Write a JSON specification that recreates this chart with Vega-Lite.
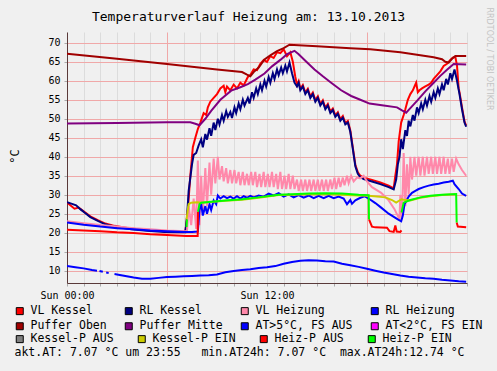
{
"$schema": "https://vega.github.io/schema/vega-lite/v6.json",
"width": 400,
"height": 251,
"autosize": {"type": "none"},
"padding": {"left": 67, "top": 32, "right": 30, "bottom": 88},
"background": "#f0f0f0",
"config": {"view": {"fill": "#ffffff", "stroke": null}, "font": "DejaVu Sans Mono", "legend": {"padding": 0}},
"title": {"text": "Temperaturverlauf Heizung am: 13.10.2013", "font": "DejaVu Sans Mono", "fontSize": 13, "fontWeight": "normal", "color": "#000000", "anchor": "middle", "frame": "group", "baseline": "middle", "offset": -9, "dx": -18.5, "dy": 14},
"datasets": {
"lines": [
{"series":"VL Kessel","seg":1,"h":0,"t":28.0},{"series":"VL Kessel","seg":1,"h":0.2,"t":27.2},{"series":"VL Kessel","seg":1,"h":0.45,"t":26.3},{"series":"VL Kessel","seg":1,"h":0.7,"t":26.6},{"series":"VL Kessel","seg":1,"h":1.0,"t":25.6},{"series":"VL Kessel","seg":1,"h":1.4,"t":24.3},{"series":"VL Kessel","seg":1,"h":1.85,"t":23.3},{"series":"VL Kessel","seg":1,"h":2.3,"t":22.4},{"series":"VL Kessel","seg":1,"h":2.85,"t":21.8},{"series":"VL Kessel","seg":1,"h":3.4,"t":21.4},{"series":"VL Kessel","seg":1,"h":3.85,"t":21.1},{"series":"VL Kessel","seg":1,"h":4.8,"t":20.7},{"series":"VL Kessel","seg":1,"h":5.85,"t":20.4},{"series":"VL Kessel","seg":1,"h":7.1,"t":20.2},
{"series":"VL Kessel","seg":1,"h":7.25,"t":26},{"series":"VL Kessel","seg":1,"h":7.4,"t":35},{"series":"VL Kessel","seg":1,"h":7.55,"t":42.5},{"series":"VL Kessel","seg":1,"h":7.7,"t":45},{"series":"VL Kessel","seg":1,"h":7.85,"t":47.3},{"series":"VL Kessel","seg":1,"h":8.0,"t":49},{"series":"VL Kessel","seg":1,"h":8.2,"t":51.5},{"series":"VL Kessel","seg":1,"h":8.35,"t":51},{"series":"VL Kessel","seg":1,"h":8.45,"t":53},{"series":"VL Kessel","seg":1,"h":8.6,"t":54.5},{"series":"VL Kessel","seg":1,"h":8.8,"t":55.5},{"series":"VL Kessel","seg":1,"h":9.0,"t":56.5},{"series":"VL Kessel","seg":1,"h":9.2,"t":58},{"series":"VL Kessel","seg":1,"h":9.4,"t":58.7},{"series":"VL Kessel","seg":1,"h":9.5,"t":57},{"series":"VL Kessel","seg":1,"h":9.6,"t":58.5},{"series":"VL Kessel","seg":1,"h":9.8,"t":57.5},{"series":"VL Kessel","seg":1,"h":10.0,"t":59},{"series":"VL Kessel","seg":1,"h":10.2,"t":58},{"series":"VL Kessel","seg":1,"h":10.4,"t":59.5},{"series":"VL Kessel","seg":1,"h":10.6,"t":58.8},{"series":"VL Kessel","seg":1,"h":10.85,"t":61},{"series":"VL Kessel","seg":1,"h":11.0,"t":61.5},{"series":"VL Kessel","seg":1,"h":11.2,"t":63},{"series":"VL Kessel","seg":1,"h":11.4,"t":62.8},{"series":"VL Kessel","seg":1,"h":11.6,"t":64.5},{"series":"VL Kessel","seg":1,"h":11.8,"t":65.5},{"series":"VL Kessel","seg":1,"h":12.0,"t":65},{"series":"VL Kessel","seg":1,"h":12.2,"t":66.5},{"series":"VL Kessel","seg":1,"h":12.4,"t":66},{"series":"VL Kessel","seg":1,"h":12.6,"t":67.5},{"series":"VL Kessel","seg":1,"h":12.8,"t":67.3},{"series":"VL Kessel","seg":1,"h":13.0,"t":68.3},{"series":"VL Kessel","seg":1,"h":13.2,"t":66.5},{"series":"VL Kessel","seg":1,"h":13.4,"t":67.5},{"series":"VL Kessel","seg":1,"h":13.55,"t":65},{"series":"VL Kessel","seg":1,"h":13.7,"t":61},
{"series":"VL Kessel","seg":1,"h":13.8,"t":58.9},{"series":"VL Kessel","seg":1,"h":13.9,"t":59.9},{"series":"VL Kessel","seg":1,"h":14.0,"t":57.9},{"series":"VL Kessel","seg":1,"h":14.15,"t":58.9},{"series":"VL Kessel","seg":1,"h":14.3,"t":56.9},{"series":"VL Kessel","seg":1,"h":14.45,"t":57.9},{"series":"VL Kessel","seg":1,"h":14.6,"t":55.9},{"series":"VL Kessel","seg":1,"h":14.75,"t":56.9},{"series":"VL Kessel","seg":1,"h":14.9,"t":54.9},{"series":"VL Kessel","seg":1,"h":15.05,"t":55.9},{"series":"VL Kessel","seg":1,"h":15.2,"t":53.9},{"series":"VL Kessel","seg":1,"h":15.35,"t":54.9},{"series":"VL Kessel","seg":1,"h":15.5,"t":52.9},{"series":"VL Kessel","seg":1,"h":15.65,"t":53.9},{"series":"VL Kessel","seg":1,"h":15.8,"t":51.9},{"series":"VL Kessel","seg":1,"h":15.95,"t":52.7},{"series":"VL Kessel","seg":1,"h":16.1,"t":50.9},{"series":"VL Kessel","seg":1,"h":16.25,"t":51.7},{"series":"VL Kessel","seg":1,"h":16.4,"t":49.9},{"series":"VL Kessel","seg":1,"h":16.55,"t":50.7},{"series":"VL Kessel","seg":1,"h":16.7,"t":48.9},{"series":"VL Kessel","seg":1,"h":16.85,"t":49.4},{"series":"VL Kessel","seg":1,"h":17.0,"t":46.9},{"series":"VL Kessel","seg":1,"h":17.15,"t":42.4},{"series":"VL Kessel","seg":1,"h":17.3,"t":37.9},{"series":"VL Kessel","seg":1,"h":17.45,"t":35.9},{"series":"VL Kessel","seg":1,"h":17.6,"t":35.0},{"series":"VL Kessel","seg":1,"h":17.8,"t":34.5},{"series":"VL Kessel","seg":1,"h":18.3,"t":33.9},{"series":"VL Kessel","seg":1,"h":18.8,"t":33.2},{"series":"VL Kessel","seg":1,"h":19.3,"t":32.4},{"series":"VL Kessel","seg":1,"h":19.6,"t":31.7},
{"series":"VL Kessel","seg":1,"h":19.7,"t":35},{"series":"VL Kessel","seg":1,"h":19.8,"t":38},{"series":"VL Kessel","seg":1,"h":19.9,"t":44},{"series":"VL Kessel","seg":1,"h":20.05,"t":49},{"series":"VL Kessel","seg":1,"h":20.2,"t":51},{"series":"VL Kessel","seg":1,"h":20.3,"t":52.5},{"series":"VL Kessel","seg":1,"h":20.45,"t":55},{"series":"VL Kessel","seg":1,"h":20.6,"t":56.5},{"series":"VL Kessel","seg":1,"h":20.75,"t":57.5},{"series":"VL Kessel","seg":1,"h":20.87,"t":58.7},{"series":"VL Kessel","seg":1,"h":20.95,"t":59.5},{"series":"VL Kessel","seg":1,"h":21.05,"t":57},{"series":"VL Kessel","seg":1,"h":21.15,"t":57.5},{"series":"VL Kessel","seg":1,"h":21.3,"t":58},{"series":"VL Kessel","seg":1,"h":21.5,"t":58.5},{"series":"VL Kessel","seg":1,"h":21.7,"t":59},{"series":"VL Kessel","seg":1,"h":21.85,"t":59.5},{"series":"VL Kessel","seg":1,"h":22.0,"t":60.5},{"series":"VL Kessel","seg":1,"h":22.2,"t":61.5},{"series":"VL Kessel","seg":1,"h":22.4,"t":62.5},{"series":"VL Kessel","seg":1,"h":22.6,"t":63.9},{"series":"VL Kessel","seg":1,"h":22.8,"t":64.5},{"series":"VL Kessel","seg":1,"h":23.0,"t":65.5},{"series":"VL Kessel","seg":1,"h":23.15,"t":66.1},{"series":"VL Kessel","seg":1,"h":23.3,"t":66.3},{"series":"VL Kessel","seg":1,"h":23.4,"t":64},{"series":"VL Kessel","seg":1,"h":23.5,"t":58},{"series":"VL Kessel","seg":1,"h":23.55,"t":57},{"series":"VL Kessel","seg":1,"h":23.7,"t":53},{"series":"VL Kessel","seg":1,"h":23.85,"t":49.3},{"series":"VL Kessel","seg":1,"h":23.95,"t":48.2},
{"series":"RL Kessel","seg":1,"h":0,"t":28.0},{"series":"RL Kessel","seg":1,"h":0.3,"t":27.6},{"series":"RL Kessel","seg":1,"h":0.55,"t":27.2},{"series":"RL Kessel","seg":1,"h":0.8,"t":26.2},{"series":"RL Kessel","seg":1,"h":1.05,"t":25.3},{"series":"RL Kessel","seg":1,"h":1.4,"t":24.1},{"series":"RL Kessel","seg":1,"h":1.85,"t":23.1},{"series":"RL Kessel","seg":1,"h":2.3,"t":22.2},{"series":"RL Kessel","seg":1,"h":2.85,"t":21.6},{"series":"RL Kessel","seg":1,"h":3.4,"t":21.2},{"series":"RL Kessel","seg":1,"h":3.85,"t":20.9},{"series":"RL Kessel","seg":1,"h":4.8,"t":20.5},{"series":"RL Kessel","seg":1,"h":5.85,"t":20.2},{"series":"RL Kessel","seg":1,"h":7.1,"t":20.1},
{"series":"RL Kessel","seg":1,"h":7.2,"t":24},{"series":"RL Kessel","seg":1,"h":7.3,"t":31},{"series":"RL Kessel","seg":1,"h":7.4,"t":34.5},{"series":"RL Kessel","seg":1,"h":7.5,"t":38},{"series":"RL Kessel","seg":1,"h":7.6,"t":40.5},{"series":"RL Kessel","seg":1,"h":7.75,"t":41},{"series":"RL Kessel","seg":1,"h":7.9,"t":43},{"series":"RL Kessel","seg":1,"h":8.05,"t":44.6},{"series":"RL Kessel","seg":1,"h":8.15,"t":42.5},{"series":"RL Kessel","seg":1,"h":8.3,"t":46},{"series":"RL Kessel","seg":1,"h":8.4,"t":44.5},{"series":"RL Kessel","seg":1,"h":8.55,"t":47.5},{"series":"RL Kessel","seg":1,"h":8.65,"t":45.5},{"series":"RL Kessel","seg":1,"h":8.8,"t":49},{"series":"RL Kessel","seg":1,"h":8.9,"t":47},{"series":"RL Kessel","seg":1,"h":9.05,"t":50},{"series":"RL Kessel","seg":1,"h":9.15,"t":48.5},{"series":"RL Kessel","seg":1,"h":9.3,"t":51},{"series":"RL Kessel","seg":1,"h":9.4,"t":49.5},{"series":"RL Kessel","seg":1,"h":9.55,"t":52},{"series":"RL Kessel","seg":1,"h":9.65,"t":50.5},{"series":"RL Kessel","seg":1,"h":9.8,"t":51.8},{"series":"RL Kessel","seg":1,"h":9.9,"t":50.2},{"series":"RL Kessel","seg":1,"h":10.05,"t":53},{"series":"RL Kessel","seg":1,"h":10.15,"t":51.5},{"series":"RL Kessel","seg":1,"h":10.3,"t":54},{"series":"RL Kessel","seg":1,"h":10.4,"t":52.5},{"series":"RL Kessel","seg":1,"h":10.55,"t":55},{"series":"RL Kessel","seg":1,"h":10.65,"t":53.5},{"series":"RL Kessel","seg":1,"h":10.85,"t":55.5},{"series":"RL Kessel","seg":1,"h":10.95,"t":54},{"series":"RL Kessel","seg":1,"h":11.1,"t":57},{"series":"RL Kessel","seg":1,"h":11.2,"t":55.5},{"series":"RL Kessel","seg":1,"h":11.35,"t":58},{"series":"RL Kessel","seg":1,"h":11.45,"t":56.5},{"series":"RL Kessel","seg":1,"h":11.6,"t":59},{"series":"RL Kessel","seg":1,"h":11.7,"t":57.5},{"series":"RL Kessel","seg":1,"h":11.85,"t":60},{"series":"RL Kessel","seg":1,"h":11.95,"t":58.5},{"series":"RL Kessel","seg":1,"h":12.1,"t":61},{"series":"RL Kessel","seg":1,"h":12.2,"t":59.5},{"series":"RL Kessel","seg":1,"h":12.35,"t":62},{"series":"RL Kessel","seg":1,"h":12.45,"t":60.5},{"series":"RL Kessel","seg":1,"h":12.6,"t":63},{"series":"RL Kessel","seg":1,"h":12.7,"t":61.5},{"series":"RL Kessel","seg":1,"h":12.85,"t":63.5},{"series":"RL Kessel","seg":1,"h":12.95,"t":62},{"series":"RL Kessel","seg":1,"h":13.1,"t":64},{"series":"RL Kessel","seg":1,"h":13.2,"t":62.5},{"series":"RL Kessel","seg":1,"h":13.35,"t":64.8},{"series":"RL Kessel","seg":1,"h":13.5,"t":62},{"series":"RL Kessel","seg":1,"h":13.65,"t":59.5},
{"series":"RL Kessel","seg":1,"h":13.8,"t":58.5},{"series":"RL Kessel","seg":1,"h":13.9,"t":59.5},{"series":"RL Kessel","seg":1,"h":14.0,"t":57.5},{"series":"RL Kessel","seg":1,"h":14.15,"t":58.5},{"series":"RL Kessel","seg":1,"h":14.3,"t":56.5},{"series":"RL Kessel","seg":1,"h":14.45,"t":57.5},{"series":"RL Kessel","seg":1,"h":14.6,"t":55.5},{"series":"RL Kessel","seg":1,"h":14.75,"t":56.5},{"series":"RL Kessel","seg":1,"h":14.9,"t":54.5},{"series":"RL Kessel","seg":1,"h":15.05,"t":55.5},{"series":"RL Kessel","seg":1,"h":15.2,"t":53.5},{"series":"RL Kessel","seg":1,"h":15.35,"t":54.5},{"series":"RL Kessel","seg":1,"h":15.5,"t":52.5},{"series":"RL Kessel","seg":1,"h":15.65,"t":53.5},{"series":"RL Kessel","seg":1,"h":15.8,"t":51.5},{"series":"RL Kessel","seg":1,"h":15.95,"t":52.3},{"series":"RL Kessel","seg":1,"h":16.1,"t":50.5},{"series":"RL Kessel","seg":1,"h":16.25,"t":51.3},{"series":"RL Kessel","seg":1,"h":16.4,"t":49.5},{"series":"RL Kessel","seg":1,"h":16.55,"t":50.3},{"series":"RL Kessel","seg":1,"h":16.7,"t":48.5},{"series":"RL Kessel","seg":1,"h":16.85,"t":49},{"series":"RL Kessel","seg":1,"h":17.0,"t":46.5},{"series":"RL Kessel","seg":1,"h":17.15,"t":42},{"series":"RL Kessel","seg":1,"h":17.3,"t":37.5},{"series":"RL Kessel","seg":1,"h":17.45,"t":35.5},{"series":"RL Kessel","seg":1,"h":17.6,"t":34.6},{"series":"RL Kessel","seg":1,"h":17.8,"t":34.1},{"series":"RL Kessel","seg":1,"h":18.3,"t":33.5},{"series":"RL Kessel","seg":1,"h":18.8,"t":32.8},{"series":"RL Kessel","seg":1,"h":19.3,"t":32.0},{"series":"RL Kessel","seg":1,"h":19.6,"t":31.4},
{"series":"RL Kessel","seg":1,"h":19.75,"t":34},{"series":"RL Kessel","seg":1,"h":19.85,"t":38},{"series":"RL Kessel","seg":1,"h":19.95,"t":40},{"series":"RL Kessel","seg":1,"h":20.05,"t":44.6},{"series":"RL Kessel","seg":1,"h":20.15,"t":42},{"series":"RL Kessel","seg":1,"h":20.3,"t":47},{"series":"RL Kessel","seg":1,"h":20.4,"t":45.5},{"series":"RL Kessel","seg":1,"h":20.5,"t":49.5},{"series":"RL Kessel","seg":1,"h":20.6,"t":48},{"series":"RL Kessel","seg":1,"h":20.75,"t":51},{"series":"RL Kessel","seg":1,"h":20.85,"t":49.5},{"series":"RL Kessel","seg":1,"h":21.0,"t":53},{"series":"RL Kessel","seg":1,"h":21.1,"t":51.5},{"series":"RL Kessel","seg":1,"h":21.25,"t":54},{"series":"RL Kessel","seg":1,"h":21.35,"t":52.5},{"series":"RL Kessel","seg":1,"h":21.5,"t":55},{"series":"RL Kessel","seg":1,"h":21.6,"t":53.5},{"series":"RL Kessel","seg":1,"h":21.75,"t":56},{"series":"RL Kessel","seg":1,"h":21.85,"t":54.5},{"series":"RL Kessel","seg":1,"h":22.0,"t":57},{"series":"RL Kessel","seg":1,"h":22.1,"t":55.5},{"series":"RL Kessel","seg":1,"h":22.25,"t":58},{"series":"RL Kessel","seg":1,"h":22.35,"t":56.5},{"series":"RL Kessel","seg":1,"h":22.5,"t":59},{"series":"RL Kessel","seg":1,"h":22.6,"t":57.5},{"series":"RL Kessel","seg":1,"h":22.75,"t":60.5},{"series":"RL Kessel","seg":1,"h":22.85,"t":59},{"series":"RL Kessel","seg":1,"h":23.0,"t":62},{"series":"RL Kessel","seg":1,"h":23.1,"t":60.5},{"series":"RL Kessel","seg":1,"h":23.25,"t":63},{"series":"RL Kessel","seg":1,"h":23.4,"t":60},{"series":"RL Kessel","seg":1,"h":23.55,"t":56.5},{"series":"RL Kessel","seg":1,"h":23.7,"t":52.5},{"series":"RL Kessel","seg":1,"h":23.85,"t":49},{"series":"RL Kessel","seg":1,"h":23.95,"t":47.9},
{"series":"VL Heizung","seg":1,"h":0,"t":23.0},{"series":"VL Heizung","seg":1,"h":1,"t":22.5},{"series":"VL Heizung","seg":1,"h":2,"t":22.0},{"series":"VL Heizung","seg":1,"h":3,"t":21.6},{"series":"VL Heizung","seg":1,"h":4,"t":21.2},{"series":"VL Heizung","seg":1,"h":5,"t":20.9},{"series":"VL Heizung","seg":1,"h":6,"t":20.6},{"series":"VL Heizung","seg":1,"h":7.1,"t":20.4},{"series":"VL Heizung","seg":1,"h":7.2,"t":20.5},{"series":"VL Heizung","seg":1,"h":7.3,"t":27},{"series":"VL Heizung","seg":1,"h":7.45,"t":22},{"series":"VL Heizung","seg":1,"h":7.6,"t":29},{"series":"VL Heizung","seg":1,"h":7.75,"t":21},{"series":"VL Heizung","seg":1,"h":7.85,"t":39},{"series":"VL Heizung","seg":1,"h":7.95,"t":22},{"series":"VL Heizung","seg":1,"h":8.05,"t":35},{"series":"VL Heizung","seg":1,"h":8.15,"t":25},{"series":"VL Heizung","seg":1,"h":8.3,"t":37},{"series":"VL Heizung","seg":1,"h":8.4,"t":27},{"series":"VL Heizung","seg":1,"h":8.55,"t":38.5},{"series":"VL Heizung","seg":1,"h":8.65,"t":30},{"series":"VL Heizung","seg":1,"h":8.8,"t":39.5},{"series":"VL Heizung","seg":1,"h":8.9,"t":33},{"series":"VL Heizung","seg":1,"h":9.05,"t":40},{"series":"VL Heizung","seg":1,"h":9.15,"t":34},{"series":"VL Heizung","seg":1,"h":9.3,"t":37.5},{"series":"VL Heizung","seg":1,"h":9.4,"t":33.5},{"series":"VL Heizung","seg":1,"h":9.55,"t":37},{"series":"VL Heizung","seg":1,"h":9.65,"t":33},{"series":"VL Heizung","seg":1,"h":9.8,"t":36.5},{"series":"VL Heizung","seg":1,"h":9.9,"t":33},{"series":"VL Heizung","seg":1,"h":10.05,"t":36.5},{"series":"VL Heizung","seg":1,"h":10.15,"t":33},{"series":"VL Heizung","seg":1,"h":10.3,"t":36},{"series":"VL Heizung","seg":1,"h":10.4,"t":32.5},{"series":"VL Heizung","seg":1,"h":10.55,"t":36},{"series":"VL Heizung","seg":1,"h":10.65,"t":32.5},{"series":"VL Heizung","seg":1,"h":10.8,"t":35.5},{"series":"VL Heizung","seg":1,"h":10.9,"t":32.5},{"series":"VL Heizung","seg":1,"h":11.05,"t":36},{"series":"VL Heizung","seg":1,"h":11.15,"t":32.5},{"series":"VL Heizung","seg":1,"h":11.3,"t":36},{"series":"VL Heizung","seg":1,"h":11.4,"t":32},{"series":"VL Heizung","seg":1,"h":11.55,"t":35.5},{"series":"VL Heizung","seg":1,"h":11.65,"t":32},{"series":"VL Heizung","seg":1,"h":11.8,"t":36},{"series":"VL Heizung","seg":1,"h":11.9,"t":32},{"series":"VL Heizung","seg":1,"h":12.05,"t":35.5},{"series":"VL Heizung","seg":1,"h":12.15,"t":32},{"series":"VL Heizung","seg":1,"h":12.3,"t":36},{"series":"VL Heizung","seg":1,"h":12.4,"t":32},{"series":"VL Heizung","seg":1,"h":12.55,"t":35.5},{"series":"VL Heizung","seg":1,"h":12.65,"t":31.5},{"series":"VL Heizung","seg":1,"h":12.8,"t":36},{"series":"VL Heizung","seg":1,"h":12.9,"t":31.5},{"series":"VL Heizung","seg":1,"h":13.05,"t":35},{"series":"VL Heizung","seg":1,"h":13.15,"t":31.5},{"series":"VL Heizung","seg":1,"h":13.3,"t":35.5},{"series":"VL Heizung","seg":1,"h":13.4,"t":31.5},{"series":"VL Heizung","seg":1,"h":13.55,"t":35},{"series":"VL Heizung","seg":1,"h":13.65,"t":31.5},{"series":"VL Heizung","seg":1,"h":13.8,"t":34},{"series":"VL Heizung","seg":1,"h":13.9,"t":31},{"series":"VL Heizung","seg":1,"h":14.05,"t":34},{"series":"VL Heizung","seg":1,"h":14.15,"t":31},{"series":"VL Heizung","seg":1,"h":14.3,"t":34},{"series":"VL Heizung","seg":1,"h":14.4,"t":31},{"series":"VL Heizung","seg":1,"h":14.55,"t":34},{"series":"VL Heizung","seg":1,"h":14.65,"t":31},{"series":"VL Heizung","seg":1,"h":14.8,"t":34},{"series":"VL Heizung","seg":1,"h":14.9,"t":31},{"series":"VL Heizung","seg":1,"h":15.05,"t":34},{"series":"VL Heizung","seg":1,"h":15.15,"t":31},{"series":"VL Heizung","seg":1,"h":15.3,"t":34},{"series":"VL Heizung","seg":1,"h":15.4,"t":31},{"series":"VL Heizung","seg":1,"h":15.55,"t":34},{"series":"VL Heizung","seg":1,"h":15.65,"t":31},{"series":"VL Heizung","seg":1,"h":15.8,"t":34},{"series":"VL Heizung","seg":1,"h":15.9,"t":31.5},{"series":"VL Heizung","seg":1,"h":16.05,"t":34.5},{"series":"VL Heizung","seg":1,"h":16.15,"t":31.5},{"series":"VL Heizung","seg":1,"h":16.3,"t":34.5},{"series":"VL Heizung","seg":1,"h":16.4,"t":32},{"series":"VL Heizung","seg":1,"h":16.55,"t":34.5},{"series":"VL Heizung","seg":1,"h":16.65,"t":32.5},{"series":"VL Heizung","seg":1,"h":16.8,"t":35},{"series":"VL Heizung","seg":1,"h":16.9,"t":33},{"series":"VL Heizung","seg":1,"h":17.05,"t":35},{"series":"VL Heizung","seg":1,"h":17.2,"t":33.5},{"series":"VL Heizung","seg":1,"h":17.4,"t":34.5},{"series":"VL Heizung","seg":1,"h":17.6,"t":34.3},{"series":"VL Heizung","seg":1,"h":17.8,"t":35.0},{"series":"VL Heizung","seg":1,"h":18.0,"t":33.5},{"series":"VL Heizung","seg":1,"h":18.3,"t":32},{"series":"VL Heizung","seg":1,"h":18.85,"t":30.5},{"series":"VL Heizung","seg":1,"h":19.3,"t":28.5},{"series":"VL Heizung","seg":1,"h":19.65,"t":26.2},{"series":"VL Heizung","seg":1,"h":19.95,"t":23.5},{"series":"VL Heizung","seg":1,"h":20.0,"t":30},{"series":"VL Heizung","seg":1,"h":20.1,"t":24},{"series":"VL Heizung","seg":1,"h":20.2,"t":41},{"series":"VL Heizung","seg":1,"h":20.3,"t":27},{"series":"VL Heizung","seg":1,"h":20.4,"t":38},{"series":"VL Heizung","seg":1,"h":20.5,"t":30},{"series":"VL Heizung","seg":1,"h":20.6,"t":40},{"series":"VL Heizung","seg":1,"h":20.7,"t":34},{"series":"VL Heizung","seg":1,"h":20.85,"t":40},{"series":"VL Heizung","seg":1,"h":20.95,"t":35},{"series":"VL Heizung","seg":1,"h":21.1,"t":40},{"series":"VL Heizung","seg":1,"h":21.2,"t":35},{"series":"VL Heizung","seg":1,"h":21.35,"t":40},{"series":"VL Heizung","seg":1,"h":21.45,"t":35},{"series":"VL Heizung","seg":1,"h":21.6,"t":40},{"series":"VL Heizung","seg":1,"h":21.7,"t":35.5},{"series":"VL Heizung","seg":1,"h":21.85,"t":40},{"series":"VL Heizung","seg":1,"h":21.95,"t":35.5},{"series":"VL Heizung","seg":1,"h":22.1,"t":40},{"series":"VL Heizung","seg":1,"h":22.2,"t":35.5},{"series":"VL Heizung","seg":1,"h":22.35,"t":40},{"series":"VL Heizung","seg":1,"h":22.45,"t":35.5},{"series":"VL Heizung","seg":1,"h":22.6,"t":40},{"series":"VL Heizung","seg":1,"h":22.7,"t":35.5},{"series":"VL Heizung","seg":1,"h":22.85,"t":39.5},{"series":"VL Heizung","seg":1,"h":22.95,"t":35.5},{"series":"VL Heizung","seg":1,"h":23.1,"t":39.5},{"series":"VL Heizung","seg":1,"h":23.2,"t":36},{"series":"VL Heizung","seg":1,"h":23.35,"t":39.5},{"series":"VL Heizung","seg":1,"h":23.5,"t":38},{"series":"VL Heizung","seg":1,"h":23.7,"t":36.5},{"series":"VL Heizung","seg":1,"h":23.95,"t":35},
{"series":"RL Heizung","seg":1,"h":0,"t":22.7},{"series":"RL Heizung","seg":1,"h":1,"t":22.1},{"series":"RL Heizung","seg":1,"h":2,"t":21.6},{"series":"RL Heizung","seg":1,"h":3,"t":21.2},{"series":"RL Heizung","seg":1,"h":4,"t":20.9},{"series":"RL Heizung","seg":1,"h":5,"t":20.6},{"series":"RL Heizung","seg":1,"h":6,"t":20.4},{"series":"RL Heizung","seg":1,"h":7.1,"t":20.2},{"series":"RL Heizung","seg":1,"h":7.5,"t":20.2},{"series":"RL Heizung","seg":1,"h":7.85,"t":20.3},{"series":"RL Heizung","seg":1,"h":7.95,"t":26},{"series":"RL Heizung","seg":1,"h":8.05,"t":27.5},{"series":"RL Heizung","seg":1,"h":8.15,"t":24.5},{"series":"RL Heizung","seg":1,"h":8.3,"t":27},{"series":"RL Heizung","seg":1,"h":8.4,"t":25},{"series":"RL Heizung","seg":1,"h":8.55,"t":27.5},{"series":"RL Heizung","seg":1,"h":8.65,"t":26},{"series":"RL Heizung","seg":1,"h":8.8,"t":28.5},{"series":"RL Heizung","seg":1,"h":8.95,"t":27.5},{"series":"RL Heizung","seg":1,"h":9.05,"t":29.8},{"series":"RL Heizung","seg":1,"h":9.2,"t":29},{"series":"RL Heizung","seg":1,"h":9.4,"t":29.6},{"series":"RL Heizung","seg":1,"h":9.6,"t":29.1},{"series":"RL Heizung","seg":1,"h":9.8,"t":29.5},{"series":"RL Heizung","seg":1,"h":10.0,"t":29.0},{"series":"RL Heizung","seg":1,"h":10.2,"t":29.6},{"series":"RL Heizung","seg":1,"h":10.4,"t":29.0},{"series":"RL Heizung","seg":1,"h":10.6,"t":29.6},{"series":"RL Heizung","seg":1,"h":10.8,"t":29.2},{"series":"RL Heizung","seg":1,"h":11.0,"t":29.7},{"series":"RL Heizung","seg":1,"h":11.2,"t":29.3},{"series":"RL Heizung","seg":1,"h":11.5,"t":29.8},{"series":"RL Heizung","seg":1,"h":11.8,"t":29.5},{"series":"RL Heizung","seg":1,"h":12.1,"t":30.3},{"series":"RL Heizung","seg":1,"h":12.4,"t":29.8},{"series":"RL Heizung","seg":1,"h":12.7,"t":30.4},{"series":"RL Heizung","seg":1,"h":13.0,"t":29.5},{"series":"RL Heizung","seg":1,"h":13.3,"t":30.1},{"series":"RL Heizung","seg":1,"h":13.6,"t":29.3},{"series":"RL Heizung","seg":1,"h":13.9,"t":29.9},{"series":"RL Heizung","seg":1,"h":14.2,"t":29.2},{"series":"RL Heizung","seg":1,"h":14.5,"t":29.8},{"series":"RL Heizung","seg":1,"h":14.8,"t":29.1},{"series":"RL Heizung","seg":1,"h":15.1,"t":29.7},{"series":"RL Heizung","seg":1,"h":15.4,"t":29.1},{"series":"RL Heizung","seg":1,"h":15.7,"t":29.7},{"series":"RL Heizung","seg":1,"h":16.0,"t":29.1},{"series":"RL Heizung","seg":1,"h":16.3,"t":29.5},{"series":"RL Heizung","seg":1,"h":16.6,"t":29.0},{"series":"RL Heizung","seg":1,"h":16.8,"t":27.5},{"series":"RL Heizung","seg":1,"h":17.0,"t":28.6},{"series":"RL Heizung","seg":1,"h":17.1,"t":27.6},{"series":"RL Heizung","seg":1,"h":17.3,"t":28.5},{"series":"RL Heizung","seg":1,"h":17.6,"t":29.2},{"series":"RL Heizung","seg":1,"h":17.85,"t":29.6},{"series":"RL Heizung","seg":1,"h":18.1,"t":29.0},{"series":"RL Heizung","seg":1,"h":18.5,"t":27.8},{"series":"RL Heizung","seg":1,"h":18.85,"t":26.6},{"series":"RL Heizung","seg":1,"h":19.3,"t":25.0},{"series":"RL Heizung","seg":1,"h":19.85,"t":23.5},{"series":"RL Heizung","seg":1,"h":20.05,"t":23.0},{"series":"RL Heizung","seg":1,"h":20.15,"t":24.5},{"series":"RL Heizung","seg":1,"h":20.25,"t":27.5},{"series":"RL Heizung","seg":1,"h":20.5,"t":29.5},{"series":"RL Heizung","seg":1,"h":20.7,"t":30.5},{"series":"RL Heizung","seg":1,"h":20.9,"t":31.0},{"series":"RL Heizung","seg":1,"h":21.1,"t":31.5},{"series":"RL Heizung","seg":1,"h":21.4,"t":32.0},{"series":"RL Heizung","seg":1,"h":21.7,"t":32.4},{"series":"RL Heizung","seg":1,"h":22.0,"t":32.7},{"series":"RL Heizung","seg":1,"h":22.3,"t":32.9},{"series":"RL Heizung","seg":1,"h":22.6,"t":33.2},{"series":"RL Heizung","seg":1,"h":22.9,"t":33.4},{"series":"RL Heizung","seg":1,"h":23.15,"t":33.7},{"series":"RL Heizung","seg":1,"h":23.25,"t":32.8},{"series":"RL Heizung","seg":1,"h":23.5,"t":31.5},{"series":"RL Heizung","seg":1,"h":23.7,"t":30.3},{"series":"RL Heizung","seg":1,"h":23.95,"t":29.7},
{"series":"Puffer Oben","seg":1,"h":0,"t":67.1},{"series":"Puffer Oben","seg":1,"h":3,"t":65.8},{"series":"Puffer Oben","seg":1,"h":6,"t":64.4},{"series":"Puffer Oben","seg":1,"h":9,"t":63.0},{"series":"Puffer Oben","seg":1,"h":10.5,"t":62.3},{"series":"Puffer Oben","seg":1,"h":10.8,"t":61.6},{"series":"Puffer Oben","seg":1,"h":11.0,"t":61.2},{"series":"Puffer Oben","seg":1,"h":11.2,"t":62.3},{"series":"Puffer Oben","seg":1,"h":11.5,"t":63.5},{"series":"Puffer Oben","seg":1,"h":11.85,"t":65.6},{"series":"Puffer Oben","seg":1,"h":12.2,"t":66.7},{"series":"Puffer Oben","seg":1,"h":12.6,"t":67.8},{"series":"Puffer Oben","seg":1,"h":13.0,"t":68.6},{"series":"Puffer Oben","seg":1,"h":13.35,"t":69.5},{"series":"Puffer Oben","seg":1,"h":15,"t":69.1},{"series":"Puffer Oben","seg":1,"h":17,"t":68.6},{"series":"Puffer Oben","seg":1,"h":18.2,"t":68.3},{"series":"Puffer Oben","seg":1,"h":20,"t":67.5},{"series":"Puffer Oben","seg":1,"h":22,"t":66.2},{"series":"Puffer Oben","seg":1,"h":22.5,"t":65.7},{"series":"Puffer Oben","seg":1,"h":22.7,"t":65.0},{"series":"Puffer Oben","seg":1,"h":22.9,"t":64.8},{"series":"Puffer Oben","seg":1,"h":23.1,"t":65.8},{"series":"Puffer Oben","seg":1,"h":23.3,"t":66.5},{"series":"Puffer Oben","seg":1,"h":23.95,"t":66.5},
{"series":"Puffer Mitte","seg":1,"h":0,"t":48.75},{"series":"Puffer Mitte","seg":1,"h":3,"t":48.9},{"series":"Puffer Mitte","seg":1,"h":6,"t":49.1},{"series":"Puffer Mitte","seg":1,"h":7.4,"t":49.1},{"series":"Puffer Mitte","seg":1,"h":7.7,"t":48.7},{"series":"Puffer Mitte","seg":1,"h":7.95,"t":48.3},{"series":"Puffer Mitte","seg":1,"h":8.3,"t":50},{"series":"Puffer Mitte","seg":1,"h":8.65,"t":52.1},{"series":"Puffer Mitte","seg":1,"h":9.2,"t":55},{"series":"Puffer Mitte","seg":1,"h":9.85,"t":57.4},{"series":"Puffer Mitte","seg":1,"h":10.4,"t":58.3},{"series":"Puffer Mitte","seg":1,"h":10.85,"t":59.1},{"series":"Puffer Mitte","seg":1,"h":11.3,"t":60.3},{"series":"Puffer Mitte","seg":1,"h":11.85,"t":61.9},{"series":"Puffer Mitte","seg":1,"h":12.3,"t":63.8},{"series":"Puffer Mitte","seg":1,"h":12.8,"t":65.5},{"series":"Puffer Mitte","seg":1,"h":13.2,"t":67.0},{"series":"Puffer Mitte","seg":1,"h":13.65,"t":67.9},{"series":"Puffer Mitte","seg":1,"h":13.9,"t":67.0},{"series":"Puffer Mitte","seg":1,"h":14.3,"t":65.3},{"series":"Puffer Mitte","seg":1,"h":14.85,"t":63.0},{"series":"Puffer Mitte","seg":1,"h":15.35,"t":61.2},{"series":"Puffer Mitte","seg":1,"h":15.85,"t":59.5},{"series":"Puffer Mitte","seg":1,"h":16.45,"t":57.5},{"series":"Puffer Mitte","seg":1,"h":17.05,"t":56.0},{"series":"Puffer Mitte","seg":1,"h":17.6,"t":55.0},{"series":"Puffer Mitte","seg":1,"h":18.15,"t":54.0},{"series":"Puffer Mitte","seg":1,"h":19.0,"t":53.5},{"series":"Puffer Mitte","seg":1,"h":19.8,"t":53.0},{"series":"Puffer Mitte","seg":1,"h":20.1,"t":52.2},{"series":"Puffer Mitte","seg":1,"h":20.35,"t":51.6},{"series":"Puffer Mitte","seg":1,"h":20.6,"t":52.8},{"series":"Puffer Mitte","seg":1,"h":21.0,"t":54.7},{"series":"Puffer Mitte","seg":1,"h":21.5,"t":57.2},{"series":"Puffer Mitte","seg":1,"h":22.0,"t":59.5},{"series":"Puffer Mitte","seg":1,"h":22.4,"t":61.3},{"series":"Puffer Mitte","seg":1,"h":22.8,"t":62.9},{"series":"Puffer Mitte","seg":1,"h":23.2,"t":64.4},{"series":"Puffer Mitte","seg":1,"h":23.95,"t":64.3},
{"series":"AT>5°C, FS AUS","seg":1,"h":0,"t":11.2},{"series":"AT>5°C, FS AUS","seg":1,"h":0.5,"t":10.9},{"series":"AT>5°C, FS AUS","seg":1,"h":1.0,"t":10.6},{"series":"AT>5°C, FS AUS","seg":1,"h":1.5,"t":10.2},{"series":"AT>5°C, FS AUS","seg":1,"h":1.8,"t":10.0},
{"series":"AT>5°C, FS AUS","seg":2,"h":1.95,"t":9.9},{"series":"AT>5°C, FS AUS","seg":2,"h":2.15,"t":9.7},
{"series":"AT>5°C, FS AUS","seg":3,"h":2.35,"t":9.5},{"series":"AT>5°C, FS AUS","seg":3,"h":2.5,"t":9.4},
{"series":"AT>5°C, FS AUS","seg":4,"h":2.85,"t":9.1},{"series":"AT>5°C, FS AUS","seg":4,"h":3.0,"t":9.0},{"series":"AT>5°C, FS AUS","seg":4,"h":3.5,"t":8.6},{"series":"AT>5°C, FS AUS","seg":4,"h":4.0,"t":8.2},{"series":"AT>5°C, FS AUS","seg":4,"h":4.5,"t":7.9},{"series":"AT>5°C, FS AUS","seg":4,"h":5.0,"t":7.9},{"series":"AT>5°C, FS AUS","seg":4,"h":5.5,"t":8.1},{"series":"AT>5°C, FS AUS","seg":4,"h":6.0,"t":8.3},{"series":"AT>5°C, FS AUS","seg":4,"h":6.5,"t":8.4},{"series":"AT>5°C, FS AUS","seg":4,"h":7.0,"t":8.5},{"series":"AT>5°C, FS AUS","seg":4,"h":7.5,"t":8.6},{"series":"AT>5°C, FS AUS","seg":4,"h":8.0,"t":8.7},{"series":"AT>5°C, FS AUS","seg":4,"h":8.5,"t":8.8},{"series":"AT>5°C, FS AUS","seg":4,"h":9.0,"t":9.0},{"series":"AT>5°C, FS AUS","seg":4,"h":9.5,"t":9.6},{"series":"AT>5°C, FS AUS","seg":4,"h":10.0,"t":9.9},{"series":"AT>5°C, FS AUS","seg":4,"h":10.5,"t":10.2},{"series":"AT>5°C, FS AUS","seg":4,"h":11.0,"t":10.4},{"series":"AT>5°C, FS AUS","seg":4,"h":11.5,"t":10.7},{"series":"AT>5°C, FS AUS","seg":4,"h":12.0,"t":10.9},{"series":"AT>5°C, FS AUS","seg":4,"h":12.5,"t":11.2},{"series":"AT>5°C, FS AUS","seg":4,"h":13.0,"t":11.8},{"series":"AT>5°C, FS AUS","seg":4,"h":13.5,"t":12.3},{"series":"AT>5°C, FS AUS","seg":4,"h":14.0,"t":12.6},{"series":"AT>5°C, FS AUS","seg":4,"h":14.5,"t":12.74},{"series":"AT>5°C, FS AUS","seg":4,"h":15.0,"t":12.7},{"series":"AT>5°C, FS AUS","seg":4,"h":15.5,"t":12.5},{"series":"AT>5°C, FS AUS","seg":4,"h":16.0,"t":12.4},{"series":"AT>5°C, FS AUS","seg":4,"h":16.5,"t":11.8},{"series":"AT>5°C, FS AUS","seg":4,"h":17.0,"t":11.4},{"series":"AT>5°C, FS AUS","seg":4,"h":17.5,"t":11.0},{"series":"AT>5°C, FS AUS","seg":4,"h":18.0,"t":10.5},{"series":"AT>5°C, FS AUS","seg":4,"h":18.5,"t":10.0},{"series":"AT>5°C, FS AUS","seg":4,"h":19.0,"t":9.5},{"series":"AT>5°C, FS AUS","seg":4,"h":19.5,"t":9.1},{"series":"AT>5°C, FS AUS","seg":4,"h":20.0,"t":8.7},{"series":"AT>5°C, FS AUS","seg":4,"h":20.5,"t":8.4},{"series":"AT>5°C, FS AUS","seg":4,"h":21.0,"t":8.2},{"series":"AT>5°C, FS AUS","seg":4,"h":21.5,"t":8.0},{"series":"AT>5°C, FS AUS","seg":4,"h":22.0,"t":7.85},{"series":"AT>5°C, FS AUS","seg":4,"h":22.5,"t":7.6},{"series":"AT>5°C, FS AUS","seg":4,"h":23.0,"t":7.4},{"series":"AT>5°C, FS AUS","seg":4,"h":23.5,"t":7.2},{"series":"AT>5°C, FS AUS","seg":4,"h":23.95,"t":7.07},
{"series":"Kessel-P EIN","seg":1,"h":7.17,"t":23.5},{"series":"Kessel-P EIN","seg":1,"h":7.3,"t":27.5},{"series":"Kessel-P EIN","seg":1,"h":7.45,"t":27.9},{"series":"Kessel-P EIN","seg":1,"h":7.84,"t":28.0},{"series":"Kessel-P EIN","seg":1,"h":8.05,"t":27.9},{"series":"Kessel-P EIN","seg":1,"h":9.5,"t":28.4},{"series":"Kessel-P EIN","seg":1,"h":10.5,"t":28.7},{"series":"Kessel-P EIN","seg":1,"h":11.5,"t":29.2},{"series":"Kessel-P EIN","seg":1,"h":12.7,"t":29.9},{"series":"Kessel-P EIN","seg":1,"h":13.5,"t":30.0},{"series":"Kessel-P EIN","seg":1,"h":14.5,"t":30.1},{"series":"Kessel-P EIN","seg":1,"h":15.5,"t":30.2},{"series":"Kessel-P EIN","seg":1,"h":16.5,"t":30.0},{"series":"Kessel-P EIN","seg":1,"h":17.5,"t":29.8},{"series":"Kessel-P EIN","seg":1,"h":18.1,"t":29.7},{"series":"Kessel-P EIN","seg":1,"h":19.1,"t":29.3},{"series":"Kessel-P EIN","seg":1,"h":19.5,"t":28.6},{"series":"Kessel-P EIN","seg":1,"h":19.75,"t":27.9},{"series":"Kessel-P EIN","seg":1,"h":20.07,"t":28.8},{"series":"Kessel-P EIN","seg":1,"h":20.2,"t":28.7},{"series":"Kessel-P EIN","seg":1,"h":20.6,"t":28.5},{"series":"Kessel-P EIN","seg":1,"h":21.2,"t":29.2},{"series":"Kessel-P EIN","seg":1,"h":21.8,"t":29.6},{"series":"Kessel-P EIN","seg":1,"h":22.5,"t":29.9},{"series":"Kessel-P EIN","seg":1,"h":23.35,"t":30.1},
{"series":"Heiz-P AUS","seg":1,"h":0,"t":20.8},{"series":"Heiz-P AUS","seg":1,"h":1,"t":20.6},{"series":"Heiz-P AUS","seg":1,"h":2,"t":20.4},{"series":"Heiz-P AUS","seg":1,"h":3,"t":20.1},{"series":"Heiz-P AUS","seg":1,"h":4,"t":19.9},{"series":"Heiz-P AUS","seg":1,"h":5,"t":19.6},{"series":"Heiz-P AUS","seg":1,"h":6,"t":19.4},{"series":"Heiz-P AUS","seg":1,"h":7.15,"t":19.1},{"series":"Heiz-P AUS","seg":1,"h":7.5,"t":19.1},{"series":"Heiz-P AUS","seg":1,"h":7.84,"t":19.1},{"series":"Heiz-P AUS","seg":1,"h":7.86,"t":25.5},
{"series":"Heiz-P AUS","seg":2,"h":18.12,"t":23.5},{"series":"Heiz-P AUS","seg":2,"h":18.3,"t":21.6},{"series":"Heiz-P AUS","seg":2,"h":18.5,"t":21.4},{"series":"Heiz-P AUS","seg":2,"h":19.2,"t":21.3},{"series":"Heiz-P AUS","seg":2,"h":19.35,"t":20.4},{"series":"Heiz-P AUS","seg":2,"h":19.6,"t":20.2},{"series":"Heiz-P AUS","seg":2,"h":19.7,"t":21.9},{"series":"Heiz-P AUS","seg":2,"h":19.78,"t":20.3},{"series":"Heiz-P AUS","seg":2,"h":20.0,"t":20.2},{"series":"Heiz-P AUS","seg":2,"h":20.07,"t":20.6},
{"series":"Heiz-P AUS","seg":3,"h":23.38,"t":22.7},{"series":"Heiz-P AUS","seg":3,"h":23.45,"t":21.6},{"series":"Heiz-P AUS","seg":3,"h":23.95,"t":21.4},
{"series":"Heiz-P EIN","seg":1,"h":7.17,"t":21.5},{"series":"Heiz-P EIN","seg":1,"h":7.2,"t":23.5},
{"series":"Heiz-P EIN","seg":2,"h":7.86,"t":25.5},{"series":"Heiz-P EIN","seg":2,"h":7.95,"t":27.5},{"series":"Heiz-P EIN","seg":2,"h":8.05,"t":27.9},{"series":"Heiz-P EIN","seg":2,"h":8.5,"t":28.1},{"series":"Heiz-P EIN","seg":2,"h":9.5,"t":28.5},{"series":"Heiz-P EIN","seg":2,"h":10.5,"t":28.8},{"series":"Heiz-P EIN","seg":2,"h":11.5,"t":29.3},{"series":"Heiz-P EIN","seg":2,"h":12.7,"t":30.0},{"series":"Heiz-P EIN","seg":2,"h":13.5,"t":30.1},{"series":"Heiz-P EIN","seg":2,"h":14.5,"t":30.3},{"series":"Heiz-P EIN","seg":2,"h":15.5,"t":30.4},{"series":"Heiz-P EIN","seg":2,"h":16.5,"t":30.3},{"series":"Heiz-P EIN","seg":2,"h":17.5,"t":30.0},{"series":"Heiz-P EIN","seg":2,"h":18.1,"t":29.9},{"series":"Heiz-P EIN","seg":2,"h":18.12,"t":23.5},
{"series":"Heiz-P EIN","seg":3,"h":20.07,"t":25.3},{"series":"Heiz-P EIN","seg":3,"h":20.2,"t":27.9},{"series":"Heiz-P EIN","seg":3,"h":20.6,"t":28.6},{"series":"Heiz-P EIN","seg":3,"h":21.2,"t":29.3},{"series":"Heiz-P EIN","seg":3,"h":21.8,"t":29.7},{"series":"Heiz-P EIN","seg":3,"h":22.5,"t":30.0},{"series":"Heiz-P EIN","seg":3,"h":23.35,"t":30.2},{"series":"Heiz-P EIN","seg":3,"h":23.38,"t":22.7}
],
"leg1": [{"name":"VL Kessel"},{"name":"RL Kessel"},{"name":"VL Heizung"},{"name":"RL Heizung"},{"name":"Puffer Oben"},{"name":"Puffer Mitte"},{"name":"AT>5°C, FS AUS"},{"name":"AT<2°C, FS EIN"}],
"leg2": [{"name":"Kessel-P AUS"},{"name":"Kessel-P EIN"},{"name":"Heiz-P AUS"},{"name":"Heiz-P EIN"}],
"leg3": [{"name":"akt.AT: 7.07 °C um 23:55\u00a0\u00a0\u00a0min.AT24h: 7.07 °C\u00a0\u00a0max.AT24h:12.74 °C"}],
"wm": [{"t": 10}]
},
"layer": [
{
"data": {"name": "lines"},
"mark": {"type": "line", "strokeWidth": 2, "clip": true},
"encoding": {
"x": {"field": "h", "type": "quantitative", "scale": {"domain": [0, 24], "nice": false, "zero": false},
"axis": {"values": [0,1,2,3,4,5,6,7,8,9,10,11,12,13,14,15,16,17,18,19,20,21,22,23,24], "labelExpr": "datum.value == 0 ? 'Sun 00:00' : (datum.value == 12 ? 'Sun 12:00' : '')", "labelFlush": false, "labelOverlap": false, "labelFont": "DejaVu Sans Mono", "labelFontSize": 10, "labelColor": "#000000", "labelPadding": 4, "tickSize": 3, "tickColor": "#aaaaaa", "domainColor": "#5a3a3a", "grid": true, "gridColor": {"condition": {"test": "datum.value == 6 || datum.value == 18", "value": "#f0a8a8"}, "value": "#dcdcdc"}, "gridOpacity": 1, "title": null}},
"y": {"field": "t", "type": "quantitative", "scale": {"domain": [6.75, 72.85], "nice": false, "zero": false},
"axis": {"orient": "left", "values": [10,15,20,25,30,35,40,45,50,55,60,65,70], "labelFont": "DejaVu Sans Mono", "labelFontSize": 10, "labelColor": "#000000", "labelPadding": 4, "tickSize": 3, "tickColor": "#aaaaaa", "domainColor": "#5a3a3a", "grid": true, "gridColor": "#f0a8a8", "gridOpacity": 1, "title": "°C", "titleFont": "DejaVu Sans Mono", "titleFontSize": 12, "titleFontWeight": "normal", "titleColor": "#000000", "titleX": -53, "titleY": 124, "titleAngle": -90, "titleAlign": "center", "titleBaseline": "middle"}},
"color": {"field": "series", "type": "nominal", "legend": null,
"scale": {"domain": ["VL Kessel","RL Kessel","VL Heizung","RL Heizung","Puffer Oben","Puffer Mitte","AT>5°C, FS AUS","Kessel-P EIN","Heiz-P AUS","Heiz-P EIN"],
"range": ["#ff0000","#000080","#ff88aa","#0000ff","#a00000","#800080","#0000ff","#cccc00","#ff0000","#00ff00"]}},
"detail": {"field": "seg", "type": "nominal"}
}
},
{
"data": {"name": "leg1"},
"mark": {"type": "square", "opacity": 0, "stroke": "#000000", "strokeWidth": 1},
"encoding": {"fill": {"field": "name", "type": "nominal",
"scale": {"domain": ["VL Kessel","RL Kessel","VL Heizung","RL Heizung","Puffer Oben","Puffer Mitte","AT>5°C, FS AUS","AT<2°C, FS EIN"], "range": ["#ff0000","#000080","#ff88aa","#0000ff","#a00000","#800080","#0000ff","#ff00ff"]},
"legend": {"title": null, "orient": "none", "legendX": -53, "legendY": 273, "direction": "horizontal", "columns": 4, "gridAlign": "each", "columnPadding": 16, "rowPadding": 2.5, "symbolType": "square", "symbolSize": 49, "symbolStrokeColor": "#000000", "symbolStrokeWidth": 1, "symbolOpacity": 1, "labelFont": "DejaVu Sans Mono", "labelFontSize": 11.5, "labelColor": "#000000", "labelOffset": 5, "labelLimit": 400, "padding": 0}}}
},
{
"data": {"name": "leg2"},
"mark": {"type": "square", "opacity": 0, "stroke": "#000000", "strokeWidth": 1},
"encoding": {"fill": {"field": "name", "type": "nominal",
"scale": {"domain": ["Kessel-P AUS","Kessel-P EIN","Heiz-P AUS","Heiz-P EIN"], "range": ["#808080","#cccc00","#ff0000","#00ff00"]},
"legend": {"title": null, "orient": "none", "legendX": -53, "legendY": 301, "direction": "horizontal", "columns": 4, "columnPadding": 22, "rowPadding": 2.5, "symbolType": "square", "symbolSize": 49, "symbolStrokeColor": "#000000", "symbolStrokeWidth": 1, "symbolOpacity": 1, "labelFont": "DejaVu Sans Mono", "labelFontSize": 11.5, "labelColor": "#000000", "labelOffset": 5, "labelLimit": 400, "padding": 0}}}
},
{
"data": {"name": "leg3"},
"mark": {"type": "square", "opacity": 0},
"encoding": {"fill": {"field": "name", "type": "nominal",
"scale": {"range": ["#f0f0f0"]},
"legend": {"title": null, "orient": "none", "legendX": -64, "legendY": 315, "direction": "horizontal", "symbolType": "square", "symbolSize": 1, "symbolStrokeWidth": 0, "symbolOpacity": 0, "labelFont": "DejaVu Sans Mono", "labelFontSize": 11.5, "labelColor": "#000000", "labelOffset": 0, "labelLimit": 1000, "padding": 0}}}
},
{
"data": {"name": "wm"},
"mark": {"type": "rule", "opacity": 0},
"encoding": {"y": {"field": "t", "type": "quantitative", "scale": {"domain": [6.75, 72.85], "nice": false, "zero": false},
"axis": {"orient": "right", "labels": false, "ticks": false, "domain": false, "grid": false, "title": "RRDTOOL / TOBI OETIKER", "titleFont": "DejaVu Sans", "titleFontSize": 8, "titleFontWeight": "normal", "titleColor": "#c4c4c4", "titleX": 21, "titleY": -25, "titleAngle": 90, "titleAlign": "left", "titleBaseline": "middle"}}}
}
],
"resolve": {"scale": {"fill": "independent", "y": "independent"}}
}
